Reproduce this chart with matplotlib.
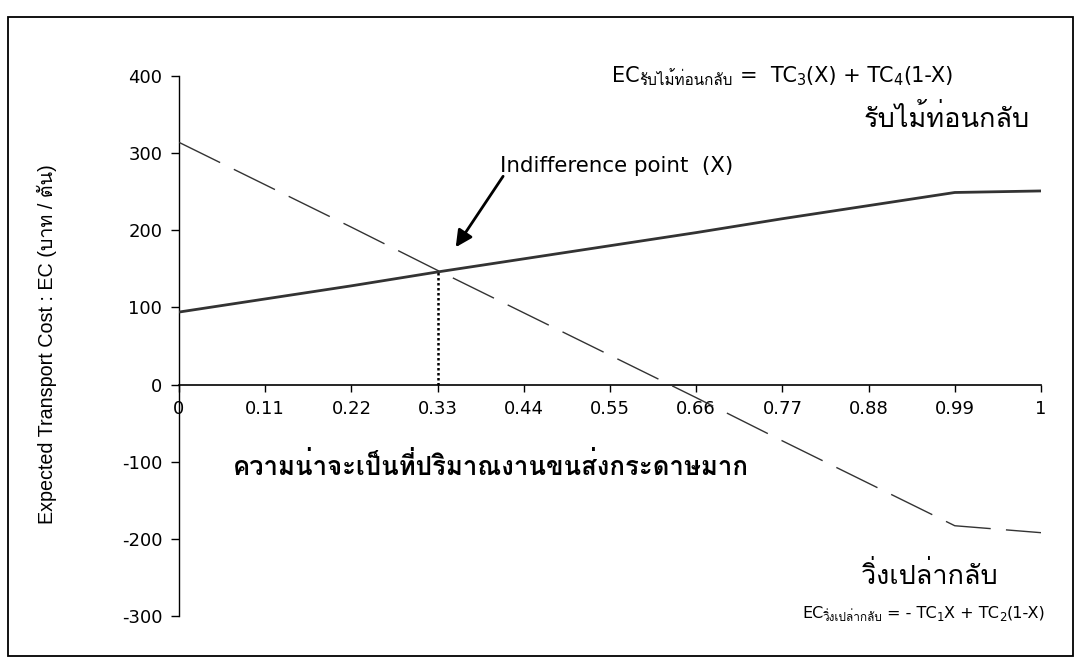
import matplotlib

matplotlib.use("Agg")
import matplotlib.pyplot as plt
import numpy as np
from matplotlib import font_manager, ft2font
from matplotlib.patches import Rectangle

INK = "#000000"
LINE = "#333333"

# x categories (probability X) and the two expected-cost series
x_labels = ["0", "0.11", "0.22", "0.33", "0.44", "0.55", "0.66", "0.77", "0.88", "0.99", "1"]
ec_return_wood = [94, 111, 128, 146, 163, 180, 197, 215, 232, 249, 251]      # รับไม้ท่อนกลับ (solid)
ec_empty_return = [314, 259, 204, 148, 93, 38, -17, -73, -128, -183, -192]   # วิ่งเปล่ากลับ (dashed)
y_ticks = [400, 300, 200, 100, 0, -100, -200, -300]
indiff_idx = 3  # X = 0.33


def find_thai_font():
    """First installed font that has Thai glyphs, or None."""
    for f in font_manager.fontManager.ttflist:
        try:
            cmap = ft2font.FT2Font(f.fname).get_charmap()
        except Exception:
            continue
        if 0x0E01 in cmap and 0x0E31 in cmap and 0x0E49 in cmap:
            return f.name
    return None


THAI = find_thai_font()
LATIN = "DejaVu Sans"
FAM = [LATIN] + ([THAI] if THAI else [])
FAM_LS = ["Liberation Sans"] + ([THAI] if THAI else []) + ["DejaVu Sans"]

W, H = 1081, 667
fig = plt.figure(figsize=(W / 100, H / 100), dpi=100, facecolor="white")
ax = fig.add_axes([179 / W, 1 - 616 / H, (1041 - 179) / W, (616 - 76) / H])


def px(x, y):
    return x / W, 1 - y / H


def draw_runs(x, y, runs):
    """Draw text pieces left to right from pixel (x, baseline y)."""
    r = fig.canvas.get_renderer()
    for s, size, dy, gap in runs:
        t = fig.text(*px(x, y + dy), s, fontsize=size, family=FAM, color=INK,
                     ha="left", va="baseline")
        x += t.get_window_extent(renderer=r).width + gap


xpos = np.arange(len(x_labels))
ax.plot(xpos, ec_return_wood, color=LINE, linewidth=2.0, solid_capstyle="butt", zorder=3)
ax.plot(xpos, ec_empty_return, color=LINE, linewidth=1.0, dashes=(33, 11), zorder=3)
ax.plot([xpos[indiff_idx]] * 2, [0, ec_return_wood[indiff_idx]], color=INK,
        linewidth=1.8, linestyle=(0, (1, 1)), zorder=2)

ax.set_xlim(0, len(x_labels) - 1)
ax.set_ylim(-300, 400)
ax.set_xticks(xpos)
ax.set_xticklabels(x_labels)
ax.set_yticks(y_ticks)
ax.set_yticklabels([str(v) for v in y_ticks])

for s in ("top", "right"):
    ax.spines[s].set_visible(False)
ax.spines["bottom"].set_position(("data", 0))
ax.spines["left"].set_color(INK)
ax.spines["bottom"].set_color(INK)
ax.spines["left"].set_linewidth(1.0)
ax.spines["bottom"].set_linewidth(1.2)
ax.tick_params(axis="y", direction="out", length=6, width=1, pad=6, labelsize=13, colors=INK)
ax.tick_params(axis="x", direction="out", length=5, width=1, pad=6, labelsize=13, colors=INK)
for lab in ax.get_xticklabels() + ax.get_yticklabels():
    lab.set_family(LATIN)

fig.text(*px(47, 344), "Expected Transport Cost : EC (บาท / ตัน)", rotation=90,
         ha="center", va="center", fontsize=14.2, family=FAM_LS, color=INK)

# outer frame
fig.add_artist(Rectangle(px(8, 656), (1073 - 8) / W, (656 - 17) / H,
                         transform=fig.transFigure, fill=False, edgecolor=INK, linewidth=1.3))

# indifference point label and arrow
fig.text(*px(500, 172), "Indifference point  (X)", fontsize=15.4, family=FAM, color=INK,
         ha="left", va="baseline")
ax.annotate("", xy=(3.21, 178), xytext=(3.76, 270),
            arrowprops=dict(arrowstyle="-|>,head_length=1.0,head_width=0.5",
                            color=INK, linewidth=2, shrinkA=0, shrinkB=0))

# formulas and series labels
draw_runs(612, 82, [("EC", 15, 0, 0), ("รับไม้ท่อนกลับ", 11, 3, 7), ("=  TC", 15, 0, 0),
                    ("3", 10.5, 3, 0), ("(X) + TC", 15, 0, 0), ("4", 10.5, 3, 0), ("(1-X)", 15, 0, 0)])
fig.text(*px(1030, 127), "รับไม้ท่อนกลับ", fontsize=19.5, family=FAM, color=INK,
         ha="right", va="baseline")

fig.text(*px(233, 475), "ความน่าจะเป็นที่ปริมาณงานขนส่งกระดาษมาก", fontsize=18.5,
         fontweight="bold", family=FAM, color=INK, ha="left", va="baseline")

fig.text(*px(862, 584), "วิ่งเปล่ากลับ", fontsize=19.5, family=FAM, color=INK,
         ha="left", va="baseline")
draw_runs(802, 618, [("EC", 11.5, 0, 0), ("วิ่งเปล่ากลับ", 8.5, 3, 4), ("= - TC", 11.5, 0, 0),
                     ("1", 8.5, 3, 0), ("X + TC", 11.5, 0, 0), ("2", 8.5, 3, 0), ("(1-X)", 11.5, 0, 0)])

fig.savefig("out.png", dpi=100, facecolor="white")
